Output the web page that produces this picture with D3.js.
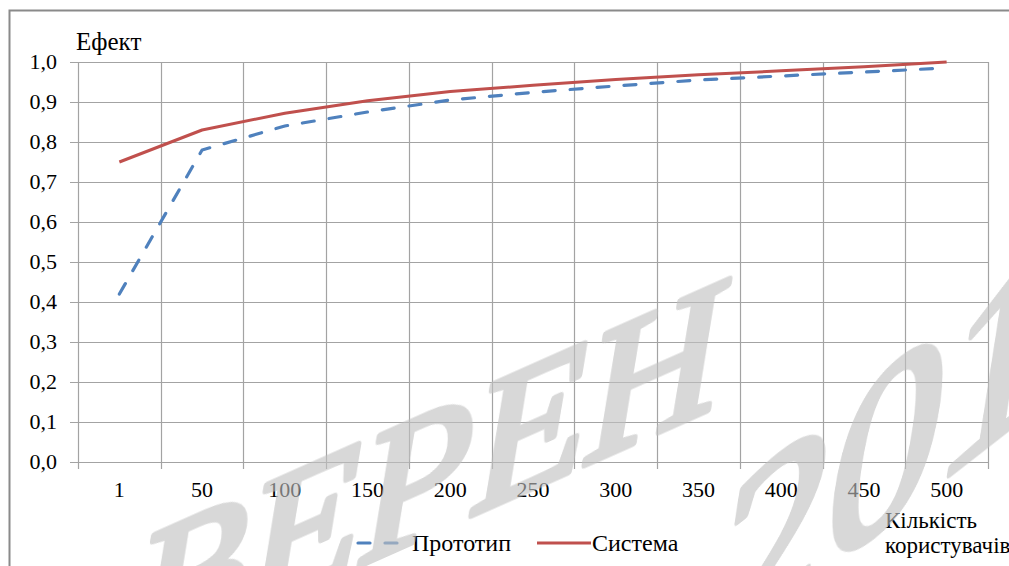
<!DOCTYPE html>
<html>
<head>
<meta charset="utf-8">
<script src="https://cdn.jsdelivr.net/npm/d3@7"></script>
<style>
  body { margin: 0; background: #fff; }
  svg { display: block; }
  svg text { font-family: "Liberation Serif", serif !important; }
</style>
</head>
<body>
<svg id="chart" width="1009" height="566" font-family="Liberation Serif"></svg>
<script>
// Number of users (category axis)
const categories = ["1", "50", "100", "150", "200", "250", "300", "350", "400", "450", "500"];
// Effect values per series
const prototypeValues = [0.42, 0.78, 0.84, 0.875, 0.905, 0.924, 0.94, 0.955, 0.965, 0.975, 0.985];
const systemValues    = [0.75, 0.83, 0.872, 0.903, 0.926, 0.942, 0.956, 0.968, 0.978, 0.988, 1.0];
const yTicks = [0, 0.1, 0.2, 0.3, 0.4, 0.5, 0.6, 0.7, 0.8, 0.9, 1.0];
const seriesNames = ["Прототип", "Система"];
const yTitle = "Ефект";
const xTitleLines = ["Кількість", "користувачів"];
const stampLines = ["ВЕРЕН", "2019"];

const FONT = `"Liberation Serif"`;
const svg = d3.select("#chart");
const plot = { left: 78, right: 988, top: 62, bottom: 462 };

const x = d3.scaleBand().domain(categories).range([plot.left, plot.right]);
const y = d3.scaleLinear().domain([0, 1]).range([plot.bottom, plot.top]);
const fmt = d => d3.format(".1f")(d).replace(".", ",");

function put(sel, px, py, anchor) {
  return sel.attr("x", px).attr("y", py)
            .attr("text-anchor", anchor || "start")
            .style("font-family", FONT)
            .attr("fill", "#000");
}

// outer frame
svg.append("rect")
  .attr("x", 9.5).attr("y", 10.5).attr("width", 1100).attr("height", 700)
  .attr("fill", "#fff").attr("stroke", "#8a8a8a").attr("stroke-width", 2);

const grid = svg.append("g").attr("stroke", "#a3a3a3").attr("stroke-width", 1.2);

// horizontal gridlines with left ticks
grid.selectAll("line.h").data(yTicks).join("line")
  .attr("class", "h")
  .attr("x1", plot.left - 8).attr("x2", plot.right)
  .attr("y1", d => Math.round(y(d)) + 0.5).attr("y2", d => Math.round(y(d)) + 0.5);

// vertical gridlines at category boundaries, extending below as ticks
const bounds = categories.map(c => x(c)).concat([x.range()[1]]);
grid.selectAll("line.v").data(bounds).join("line")
  .attr("class", "v")
  .attr("x1", d => Math.round(d) + 0.5).attr("x2", d => Math.round(d) + 0.5)
  .attr("y1", plot.top).attr("y2", plot.bottom + 7);

// y tick labels
svg.append("g").selectAll("text").data(yTicks).join("text")
  .style("font-size", "22px")
  .text(fmt)
  .each(function (d) { put(d3.select(this), 57, y(d) + 7, "end"); });

// x tick labels
svg.append("g").selectAll("text").data(categories).join("text")
  .style("font-size", "22px")
  .text(d => d)
  .each(function (d) { put(d3.select(this), x(d) + x.bandwidth() / 2, 497, "middle"); });

// axis titles
put(svg.append("text").style("font-size", "25px").text(yTitle), 76, 50);
svg.append("g").selectAll("text").data(xTitleLines).join("text")
  .style("font-size", "23px")
  .text(d => d)
  .each(function (d, i) { put(d3.select(this), 885, 528 + i * 25); });

// series lines
const cx = c => x(c) + x.bandwidth() / 2;
const line = d3.line().x((d, i) => cx(categories[i])).y(d => y(d));

svg.append("path").datum(systemValues)
  .attr("d", line).attr("fill", "none")
  .attr("stroke", "#C0504D").attr("stroke-width", 3).attr("stroke-linejoin", "round");

svg.append("path").datum(prototypeValues)
  .attr("d", line).attr("fill", "none")
  .attr("stroke", "#4F81BD").attr("stroke-width", 3.2)
  .attr("stroke-dasharray", "12,15").attr("stroke-linecap", "round");

// legend
const lg = svg.append("g");
lg.append("line").attr("x1", 358).attr("x2", 397).attr("y1", 543).attr("y2", 543)
  .attr("stroke", "#4F81BD").attr("stroke-width", 3.2)
  .attr("stroke-dasharray", "12,15").attr("stroke-linecap", "round");
put(lg.append("text").style("font-size", "24px").text(seriesNames[0]), 412, 551);
lg.append("line").attr("x1", 537).attr("x2", 591).attr("y1", 543).attr("y2", 543)
  .attr("stroke", "#C0504D").attr("stroke-width", 3);
put(lg.append("text").style("font-size", "24px").text(seriesNames[1]), 592, 551);

// diagonal stamp over the chart
const stamp = svg.append("g").attr("opacity", 0.62);
stamp.append("g").attr("transform", "translate(135,665) skewY(-24)")
  .append("text")
  .style("font-family", FONT).style("font-size", "185px")
  .style("font-style", "italic")
  .attr("fill", "rgb(193,193,193)")
  .attr("stroke", "rgb(193,193,193)").attr("stroke-width", 7).attr("stroke-linejoin", "round")
  .text(stampLines[0]);
stamp.append("g").attr("transform", "translate(712,660) skewY(-38)")
  .append("text")
  .style("font-family", FONT).style("font-size", "230px")
  .style("font-style", "italic")
  .attr("fill", "rgb(193,193,193)")
  .attr("stroke", "rgb(193,193,193)").attr("stroke-width", 7).attr("stroke-linejoin", "round")
  .text(stampLines[1]);
</script>
</body>
</html>
